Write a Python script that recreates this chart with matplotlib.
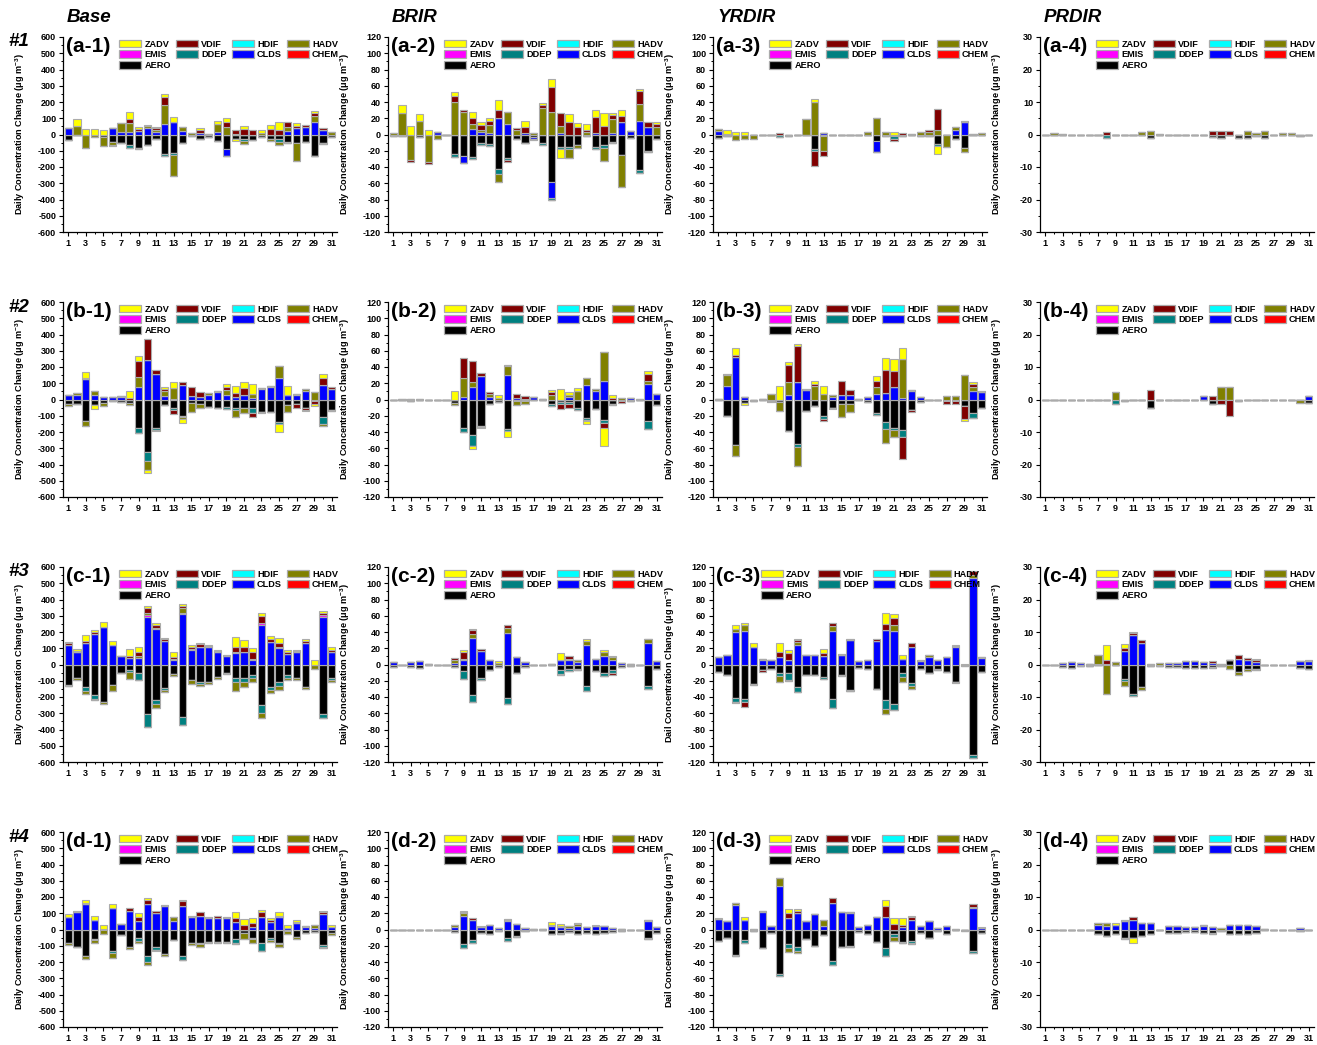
import matplotlib
matplotlib.use("Agg")
import matplotlib.pyplot as plt
from matplotlib.patches import Patch
import numpy as np

plt.rcParams['font.family'] = ['Liberation Sans', 'DejaVu Sans']
plt.rcParams['font.weight'] = 'bold'
plt.rcParams['axes.unicode_minus'] = False
plt.rcParams['mathtext.fontset'] = 'custom'
plt.rcParams['mathtext.rm'] = 'Liberation Sans:bold'
plt.rcParams['mathtext.bf'] = 'Liberation Sans:bold'

days = list(range(1, 32))
processes = ["AERO", "CHEM", "CLDS", "DDEP", "EMIS", "HADV", "HDIF", "VDIF", "ZADV"]
colors = {"ZADV": "#FFFF00", "VDIF": "#800000", "HDIF": "#00FFFF", "HADV": "#808000",
          "EMIS": "#FF00FF", "DDEP": "#008080", "CLDS": "#0000FF", "CHEM": "#FF0000",
          "AERO": "#000000"}
# legend is filled column by column -> this gives rows ZADV VDIF HDIF HADV / EMIS DDEP CLDS CHEM / AERO
legend_order = ["ZADV", "EMIS", "AERO", "VDIF", "DDEP", "HDIF", "CLDS", "HADV", "CHEM"]

col_titles = ["Base", "BRIR", "YRDIR", "PRDIR"]
row_titles = ["#1", "#2", "#3", "#4"]
col_limits = [600, 120, 120, 30]

# ---------------- #1 ----------------
a1_aero = [-35, -5, -5, 0, -15, -45, -55, -65, -85, -65, -30, -120, -115, -50, -10, -30, -15, -40, -90, -28, -30, -35, -15, -30, -30, -45, -55, -45, -130, -55, -15]
a1_clds = [38, 0, 0, 0, 0, 38, 15, 15, 22, 40, 15, 65, 80, 20, 0, 10, 0, 15, -40, 0, 0, 0, 0, 0, 0, 20, 40, 45, 80, 25, 0]
a1_ddep = [0, 0, 0, 0, 0, 0, 0, -15, 0, 0, 0, -12, -12, 0, 0, 0, 0, 0, 0, 0, -10, 0, 0, 0, -15, -5, 0, 0, -5, 0, 0]
a1_hadv = [0, 50, -75, -15, -55, -20, 53, 55, -5, 10, 15, 115, -128, 25, 10, 0, 5, 52, 45, 5, -20, 0, 10, -10, -20, 25, -105, 0, 35, -5, 15]
a1_vdif = [0, 0, 0, 0, 0, -5, 0, 25, 13, 0, 10, 50, 0, -5, 0, 15, 0, 0, 35, 25, 35, 25, 0, 35, 25, 35, 15, 13, 15, 13, 0]
a1_zadv = [0, 45, 35, 35, 30, 0, 0, 45, 10, 10, 8, 18, 28, 0, 0, 17, 0, 18, 20, -12, 15, 0, 20, 25, 55, 0, 15, 0, 15, 0, 0]

a2_aero = [-2, -2, 0, -3, 0, 0, -1, -24, -26, -28, -11, -12, -42, -29, -5, -10, -3, -10, -58, -15, -15, -13, -2, -15, -13, -9, -25, -4, -44, -20, -5]
a2_clds = [0, 0, 0, 0, 0, 3, 0, 0, -9, 7, 3, 2, 20, 13, 0, 2, -2, 0, -20, 2, 0, 0, 0, 2, 0, 2, 16, 4, 17, 9, 0]
a2_ddep = [0, 0, 0, 0, 0, 0, 0, -4, 0, -2, -2, -2, -6, -2, 0, -1, 0, -3, -3, -3, -3, 0, 0, -3, -3, -2, 0, 0, -3, -2, 0]
a2_hadv = [2, 27, -31, 17, -34, -6, 0, 40, 28, 6, 3, 10, -10, 15, 5, 0, 2, 33, 28, 8, -11, -3, 3, 0, -17, 17, -40, 0, 21, 0, 9]
a2_vdif = [0, 0, -3, 0, -2, 0, 0, 7, 2, 7, 6, 5, 10, -3, 3, 7, -2, 3, 30, 16, 15, 9, 2, 20, 10, 5, 7, 0, 15, 7, 4]
a2_zadv = [0, 9, 10, 8, 5, 0, 0, 5, 0, 8, 3, 3, 12, 0, 0, 8, 0, 3, 10, -11, 10, 5, 8, 8, 16, 3, 7, 0, 3, 0, 2]

a3_aero = [-4, -2, 0, 0, 0, 0, 0, -1, -2, 0, -1, -18, -2, 0, 0, 0, 0, -1, -8, -2, -2, -2, -1, -2, -2, -12, -1, -6, -16, 0, -1]
a3_clds = [4, 0, 0, 0, 0, 0, 0, 0, 0, 0, 0, 0, 2, 0, 0, 0, 0, 0, -13, 0, 0, 0, 0, 0, 0, 0, 0, 6, 16, 0, 0]
a3_ddep = [0, 0, 0, 0, 0, 0, 0, -2, 0, 0, 0, -2, 0, 0, 0, 0, 0, 0, 0, 0, -4, 0, 0, 0, 0, -2, 0, 0, 0, 0, 0]
a3_hadv = [3, 1, -7, -5, -5, 0, 0, 0, 0, 0, 19, 40, -18, 0, 0, 0, 0, 3, 20, 3, 0, 0, 1, 3, 3, 5, -14, 3, -5, 1, 2]
a3_vdif = [0, 0, 0, 0, 0, 0, 0, 2, 0, 0, 0, -19, -6, 0, 0, 0, 0, 0, -1, 0, -2, 2, 0, 0, 3, 26, 0, 0, 1, 0, 0]
a3_zadv = [0, 4, 3, 3, 0, 0, 0, 0, 0, 0, 0, 4, 0, 0, 0, 0, 0, 0, 0, 0, 3, 0, 0, 0, 0, -10, 0, 0, 0, 0, 0]

a4_aero = [0, 0, 0, 0, 0, 0, 0, 0, 0, 0, 0, 0, -1.2, 0, 0, 0, 0, 0, 0, -0.8, -1, 0, -1, -1, -0.6, -1, 0, 0, 0, -0.5, 0]
a4_ddep = [0, 0, 0, 0, 0, 0, 0, -1, 0, 0, 0, 0, 0, 0, 0, 0, 0, 0, 0, 0, 0, 0, 0, 0, 0, 0, 0, 0, 0, 0, 0]
a4_hadv = [0, 0.5, 0.3, 0, 0, 0, 0, 0, 0, 0, 0, 0.7, 1, 0.3, 0, 0, 0, 0, 0, 0, 0, 0, 0, 1, 0.5, 1, 0, 0.5, 0.5, 0, 0]
a4_vdif = [0, 0, 0, 0, 0, 0, 0, 0.7, 0, 0, 0, 0, 0, 0, 0, 0, 0, 0, 0, 1, 1, 1.2, 0, 0, 0, 0, 0, 0, 0, 0, 0]

# ---------------- #2 ----------------
b1_aero = [-30, -30, -130, -35, -20, -12, -15, -20, -175, -320, -175, -35, -55, -100, -20, -30, -45, -50, -45, -50, -55, -55, -75, -75, -140, -35, -30, -55, -10, -110, -65]
b1_clds = [30, 25, 125, 30, 15, 15, 15, 0, 80, 245, 160, 20, 5, 90, 20, 15, 30, 45, 30, 15, 25, 10, 65, 75, 130, 30, 25, 50, 0, 90, 65]
b1_ddep = [0, 0, 0, 0, 0, 0, 0, 0, -30, -60, -10, 0, -10, -10, 0, 0, 0, 0, -15, -15, 0, -25, 0, 0, -10, 0, 0, 0, 0, -40, 0]
b1_hadv = [-8, 18, -35, 20, -20, 0, 5, -15, 60, -55, 0, 35, 65, -10, -55, -25, 10, 5, 30, -45, -30, 25, 5, 8, 75, -40, 10, 15, 45, -15, -8]
b1_vdif = [0, 0, 10, 0, 0, 0, 0, 10, 100, 130, 20, 10, -25, 15, 55, 30, 0, 0, 15, 25, 45, -30, -10, 0, 0, 0, -25, -10, -15, 40, 10]
b1_zadv = [0, 0, 35, -25, 0, 0, 0, 45, 30, -15, -8, 10, 35, -25, 0, 0, 0, 0, 20, 45, 40, 60, 0, 0, -50, 55, 0, -5, -15, 25, 0]

b2_aero = [-1, 0, -2, -1, 0, 0, 0, -4, -35, -44, -32, -5, -3, -36, -2, -2, -1, -1, -5, -3, -3, -10, -23, -12, -25, -5, -2, -2, -1, -26, -7]
b2_clds = [0, 0, 0, 0, 0, 0, 0, 0, 3, 15, 29, 3, 0, 30, 2, 1, 3, 1, 0, 0, 3, 0, 18, 10, 23, 0, 0, 2, 0, 19, 7]
b2_ddep = [0, 0, 0, 0, 0, 0, 0, 0, -5, -13, -2, 0, 0, -3, 0, 0, 0, 0, -3, -3, -3, -3, -2, 0, -4, 0, 0, 0, 0, -10, 0]
b2_hadv = [0, 1, 1, 1, 0, 0, 0, -3, 24, 6, 0, 4, 2, 11, -5, -3, 0, 0, 6, 0, 2, 10, 9, 3, 36, -2, 2, 0, 1, 4, 0]
b2_vdif = [0, 0, 0, 0, 0, 0, 0, 0, 24, 27, 4, 2, 0, 1, 5, 3, 0, 0, 3, -6, -4, 1, -2, 0, -6, 2, -2, 0, 0, 8, 0]
b2_zadv = [0, 0, 0, 0, 0, 0, 0, 11, 0, -4, -1, 0, 4, -7, 0, 0, 0, 0, 3, 13, 4, 3, -3, 0, -22, 3, 0, 0, 0, 4, 0]

b3_aero = [-1, -20, -56, -4, -2, -1, -2, -3, -39, -55, -14, -8, -20, -10, -5, -5, -1, -3, -17, -28, -35, -38, -13, -3, -0.5, -0.5, -2, -2, -8, -16, -10]
b3_clds = [1, 17, 52, 3, 0, 1, 0, 0, 5, 21, 12, 0, 0, 3, 5, 5, 1, 3, 7, 8, 16, 2, 10, 3, 0, 0, 0, 0, 0, 11, 9]
b3_ddep = [0, 0, 0, 0, 0, 0, 0, 0, 0, -3, 0, 0, -4, 0, 0, 0, 0, 0, -2, -8, -2, -8, 0, 0, 0, 0, 0, 0, 0, -7, 0]
b3_hadv = [0, 13, -14, 0, 0, 0, 7, -11, 17, -24, 0, 17, 7, 3, -17, -10, 0, 0, 9, -17, -9, 48, 2, 0, 0, 0, 4, 4, 30, 5, 0]
b3_vdif = [0, 2, 3, 0, 0, 0, -1, 0, 21, 45, 1, 2, -2, 0, 18, 7, 0, 0, 7, 28, 19, -27, -2, 0, 0, 0, -3, -3, -16, 3, 2]
b3_zadv = [0, 0, 8, -3, 0, 0, 0, 17, 3, 2, 0, 4, 10, -2, 0, 0, 0, 0, 6, 15, 15, 14, 0, 0, 0, 0, 0, 0, -3, 2, 0]

b4_aero = [0, 0, 0, 0, 0, 0, 0, 0, 0, -0.5, 0, 0, -2.5, 0, 0, 0, 0, 0, 0, -1.5, 0, 0, -0.5, -0.3, 0, 0, 0, 0, 0, 0, -1]
b4_clds = [0, 0, 0, 0, 0, 0, 0, 0, 0, 0, 0, 0, 0, 0, 0, 0, 0, 0, 1, 0, 0, 0, 0, 0, 0, 0, 0, 0, 0, 0, 1]
b4_ddep = [0, 0, 0, 0, 0, 0, 0, 0, -1.5, 0, 0, 0, 0, 0, 0, 0, 0, 0, 0, 0, 0, 0, 0, 0, 0, 0, 0, 0, 0, 0, 0]
b4_hadv = [0, 0, 0, 0, 0, 0, 0, 0, 2.2, 0, 0, 0, 0, 0, 0, 0, 0, 0, 0, 0, 4, 4, 0, 0, 0, 0, 0, 0, 0, -1, 0]
b4_vdif = [0, 0, 0, 0, 0, 0, 0, 0, 0, 0, 0, 0, 3, 0, 0, 0, 0, 0, 0, 1, -1.5, -5, 0, 0, 0, 0, 0, 0, 0, 0, 0]

# ---------------- #3 ----------------
c1_aero = [-125, -80, -140, -190, -230, -125, -50, -35, -50, -305, -220, -145, -60, -320, -95, -110, -105, -75, -55, -80, -85, -65, -250, -140, -105, -65, -80, -140, -5, -305, -80]
c1_clds = [120, 80, 135, 185, 228, 120, 55, 40, 40, 295, 220, 145, 30, 310, 90, 105, 105, 75, 55, 70, 75, 30, 245, 140, 100, 65, 80, 135, 0, 290, 75]
c1_ddep = [-10, 0, -20, -20, 0, 0, 0, -10, -45, -80, -25, -10, 0, -50, 0, -10, 0, 0, 0, -30, -20, -15, -50, -15, -25, -20, 0, 0, 0, -25, -15]
c1_emis = [0, 0, 0, 0, 0, 0, 0, 0, 0, 10, 5, 0, 5, 10, 5, 5, 0, 0, 0, 5, 5, 5, 10, 0, 5, 0, 0, 0, 0, 15, 0]
c1_hadv = [0, -15, -20, -10, -15, -40, 0, -45, 15, 10, -20, -15, -10, 30, -25, -15, -15, -15, -5, -50, -35, -30, -30, -20, -25, -10, -15, -10, -20, 0, -15]
c1_vdif = [15, 5, 10, 12, 0, 0, 0, 15, 25, 30, 20, 15, 10, 10, 10, 15, 10, 8, 5, 30, 30, 40, 45, 20, 25, 10, 5, 10, 0, 15, 15]
c1_zadv = [5, 12, 38, 18, 32, 25, 0, 40, 30, 15, 10, 5, 30, 10, 12, 10, 5, 5, 0, 65, 40, 25, 20, 15, 35, 15, 5, 10, 25, 10, 20]

c2_aero = [-3, -1, -3, -4, -1, 0, 0, -3, -8, -37, -17, -7, -3, -41, -10, -3, -1, 0, -1, -7, -6, -5, -26, -8, -11, -7, -3, -2, 0, -27, -5]
c2_clds = [3, 0, 3, 4, 1, 0, 0, 2, 5, 33, 17, 6, 0, 39, 9, 3, 0, 0, 1, 6, 5, 3, 24, 7, 10, 6, 2, 1, 0, 26, 4]
c2_ddep = [0, 0, 0, 0, 0, 0, 0, 0, -10, -9, -2, 0, 0, -8, 0, 0, 0, 0, 0, -5, -2, -2, -6, 0, -3, -4, 0, 0, 0, -3, 0]
c2_hadv = [0, 0, 0, 0, 0, 0, 0, 3, 2, 5, 0, 0, 2, 6, 0, 0, 0, 0, 0, -1, 2, 3, 5, 0, 6, 3, 0, 0, 0, 5, 0]
c2_vdif = [0, 0, 0, 0, 0, 0, 0, 3, 8, 4, 2, 0, 0, 4, 0, 0, 0, 0, 0, 0, 3, 0, 0, 0, 0, -2, 0, 0, 0, 0, 0]
c2_zadv = [0, 0, 0, 0, 0, 0, 0, 0, 3, 2, 0, 0, 2, 0, 0, 0, 0, 0, 0, 8, 0, 0, 2, 0, 2, 1, 0, 0, 0, 1, 0]

c3_aero = [-9, -13, -41, -42, -24, -7, -6, -11, -11, -28, -13, -13, -15, -43, -13, -31, -4, -6, -30, -44, -49, -11, -23, -6, -10, -6, -9, -22, -1, -111, -9]
c3_clds = [9, 12, 40, 41, 22, 6, 5, 9, 6, 24, 12, 12, 10, 41, 12, 30, 4, 5, 29, 43, 41, 7, 21, 4, 9, 5, 9, 21, 0, 107, 8]
c3_ddep = [0, 0, -5, -4, 0, 0, 0, -3, -8, -6, 0, 0, -3, -10, 0, -2, 0, 0, 0, -11, -7, -4, -3, 0, -1, -1, 0, 0, 0, -4, 0]
c3_hadv = [0, 0, 4, 8, -1, 1, 1, -7, -1, 4, 0, 0, 0, 6, -1, 0, 0, 0, 0, -6, 8, -7, -4, 0, 3, 0, 0, 2, -1, 3, 1]
c3_vdif = [0, 0, -1, -6, 0, -2, 0, 7, 8, 2, 0, 0, 4, 4, 1, 2, 0, 0, 2, 7, 8, 0, 6, 1, 0, 0, 0, -1, 0, 5, 0]
c3_zadv = [0, 0, 5, 2, 4, 0, 0, 11, 4, 2, 0, 0, 5, 0, 0, 0, 0, 0, 0, 14, 5, 5, 0, 0, 0, 0, 0, 1, 1, 0, 0]

c4_aero = [0, 0, -0.8, -1, -0.5, -0.5, -0.3, 0, -0.3, -4.5, -9.2, -7, -0.5, -0.5, -0.7, -0.7, -1.2, -1, -1, -0.8, -0.5, 1.5, -2.3, -1.5, -1.3, -0.3, 0, 0, 0, -1, -1.3]
c4_clds = [0, 0, 0.5, 0.8, 0.5, 0.3, 0.3, 0.3, 0, 4.2, 9, 6.7, 0, 0, 0.6, 0.5, 1.2, 1, 0.9, 0.5, 0, 0, 1.7, 1.5, 0.8, 0, 0, 0, 0, 1, 1]
c4_ddep = [0, 0, 0, 0, 0, 0, 0, 0, 0, -0.5, -0.6, 0, 0, 0, 0, 0, 0, 0, 0, 0, 0, 0, 0, 0, 0, 0, 0, 0, 0, 0, 0]
c4_hadv = [0, 0, 0, 0, 0, 0, 2.7, -9, 0.8, -1.6, 0, -0.7, 0.3, 0.4, 0, 0, 0, 0, 0, -0.4, 0.3, -1.5, -0.8, -0.4, -0.4, 0, 0, 0, 0, 0, 0]
c4_vdif = [0, 0, 0, 0, 0, 0, 0, 1.2, 0, 1, 0.8, 0.8, 0, 0, 0, 0, 0, 0, 0, 0.6, 0, 0, 1.3, 0.5, 0.7, 0, 0, 0, 0, 0, 0.4]
c4_zadv = [0, 0, 0, 0, 0, 0, 0, 4.6, 0, 1.2, 0.3, 0, 0, 0, 0, 0, 0, 0, 0, 0, 0, 0, 0, 0, 0.3, 0, 0, 0, 0, 0, 0]

# ---------------- #4 ----------------
d1_aero = [-80, -110, -160, -60, -5, -135, -35, -110, -55, -165, -105, -150, -65, -160, -80, -85, -75, -75, -75, -60, -20, -50, -85, -50, -80, -10, -45, -20, -15, -95, -20]
d1_clds = [75, 105, 160, 60, 3, 135, 35, 115, 50, 160, 100, 145, 50, 145, 75, 85, 70, 72, 70, 45, 0, 15, 80, 45, 75, 12, 40, 15, 10, 95, 15]
d1_ddep = [0, 0, -5, -5, 0, -10, 0, 0, -15, -35, -20, 0, 0, -30, -5, -5, 0, 0, 0, -25, 0, -10, -45, -15, -10, 0, 0, 0, 0, -15, 0]
d1_hadv = [-15, 0, -15, -15, -20, -30, 0, -10, -10, -20, 0, -10, 30, 0, -10, -15, -5, -10, -5, -5, -40, -25, 0, -10, -15, -20, -15, 5, 15, -5, -15]
d1_vdif = [0, 10, 5, 0, 0, 0, 0, 15, 25, 20, 15, 5, 0, 30, 10, 20, 10, 10, 10, 25, 25, 25, 30, 15, 10, 0, 8, 0, 0, 15, 0]
d1_zadv = [20, 0, 15, 25, 25, 20, 0, 5, 25, 15, -10, 0, 0, 5, 0, 0, 0, 0, 0, 35, 40, 30, 10, 10, 20, 13, 8, 0, 0, 5, 10]

d2_aero = [-0.5, -0.5, -1, -0.5, -0.5, -0.5, -0.5, -3, -18, -13, -4, -5, -2, -11, -8, -2, -1, -1, -5, -4, -3, -5, -4, -5, -4, -3, -2, -0.5, -0.5, -10, -4]
d2_clds = [0, 0, 0, 0, 0, 0, 0, 3, 17, 12, 3, 5, 2, 10, 7, 2, 1, 1, 4, 3, 2, 4, 3, 4, 4, 2, 1, 0, 0, 10, 3]
d2_ddep = [0, 0, 0, 0, 0, 0, 0, 0, -5, -4, 0, 0, 0, -3, -1, 0, 0, 0, 0, -1, 0, 0, 0, 0, 0, 0, 0, 0, 0, -2, 0]
d2_hadv = [0, 0, 0, 0, 0, 0, 0, 2, 3, 0, 0, 0, 0, 2, 0, 0, 0, 0, 2, 0, 2, 3, 0, 0, 0, 0, 0, 0, 0, 2, 0]
d2_vdif = [0, 0, 0, 0, 0, 0, 0, 0, 2, 2, 0, 0, 0, 1, 0, 0, 0, 0, 0, 1, 0, 1, 0, 0, 0, 0, 0, 0, 0, 0, 0]
d2_zadv = [0, 0, 0, 0, 0, 0, 0, 0, 1, 0, 1, 0, 0, 0, 0, 0, 0, 0, 3, 3, 0, 0, 0, 1, 0, 0, 0, 0, 0, 0, 0]

d3_aero = [-14, -11, -31, -13, -2, -23, -4, -55, -18, -22, -12, -20, -7, -39, -22, -20, -3, -6, -15, -23, -6, -15, -14, -4, -11, -2, -5, -1, -1, -27, -4]
d3_clds = [13, 11, 30, 12, 0, 22, 4, 54, 14, 20, 10, 19, 4, 33, 22, 20, 3, 6, 15, 16, 0, 3, 12, 4, 10, 2, 4, 0, 0, 26, 2]
d3_ddep = [0, 0, -2, -3, 0, 0, 0, -2, -5, -4, 0, 0, 0, -5, 0, -1, 0, 0, 0, -9, -3, -2, -3, 0, 0, 0, 0, 0, 0, -2, 0]
d3_hadv = [0, 0, 3, 0, 1, 1, 0, 9, -5, -3, 0, 0, 8, 0, 0, 1, 0, 0, 1, 0, -5, 0, -1, 0, 0, 0, 0, 1, -1, 2, 0]
d3_vdif = [0, 0, 0, 0, 0, 0, 0, 0, 6, 3, 0, 0, 0, 6, 0, 0, 0, 0, 0, 13, 7, 3, 4, 0, 1, 0, 0, 0, 0, 3, 0]
d3_zadv = [1, 0, 0, 3, 0, 0, 0, 0, 5, 2, 0, 0, 0, 0, 0, 0, 0, 0, 0, 7, 7, 8, 1, 0, 0, 0, 0, 0, 0, 0, 1]

d4_aero = [0, 0, 0, 0, 0, 0, -1.5, -2, -1.5, -2.5, -2.5, -2, -1.5, 0, -1, -1, -0.8, -0.8, -1, -1, -0.5, -1.3, -1.5, -1.5, -1.2, -0.3, 0, 0, 0, -0.5, 0]
d4_clds = [0, 0, 0, 0, 0, 0, 1.5, 1, 1.5, 2.5, 3, 2, 2, 0, 1, 1, 0.8, 0.8, 1, 0.8, 0, 1.3, 1.5, 1.5, 1.2, 0.3, 0, 0, 0, 0.5, 0]
d4_hadv = [0, 0, 0, 0, 0, 0, 0.5, 1, 0, -0.5, 0, 0, 0, 0, 0, 0, 0, 0, 0.5, -0.5, 0.5, 0, 0, 0, 0, 0, 0, 0, 0, 0, 0]
d4_vdif = [0, 0, 0, 0, 0, 0, 0, 0, 0, 0.5, 0.8, 0, 0, 0, 0, 0, 0, 0, 0, 0, 0, 0, 0, 0, 0, 0, 0, 0, 0, 0, 0]
d4_zadv = [0, 0, 0, 0, 0, 0, 0, 0, 0.5, 0, -1.5, 0, 0, 0, 0, 0, 0, 0, 0, 0, 0, 0, 0, 0, 0, 0, 0, 0, 0, 0, 0]

panels = [
    [dict(AERO=a1_aero, CLDS=a1_clds, DDEP=a1_ddep, HADV=a1_hadv, VDIF=a1_vdif, ZADV=a1_zadv),
     dict(AERO=a2_aero, CLDS=a2_clds, DDEP=a2_ddep, HADV=a2_hadv, VDIF=a2_vdif, ZADV=a2_zadv),
     dict(AERO=a3_aero, CLDS=a3_clds, DDEP=a3_ddep, HADV=a3_hadv, VDIF=a3_vdif, ZADV=a3_zadv),
     dict(AERO=a4_aero, DDEP=a4_ddep, HADV=a4_hadv, VDIF=a4_vdif)],
    [dict(AERO=b1_aero, CLDS=b1_clds, DDEP=b1_ddep, HADV=b1_hadv, VDIF=b1_vdif, ZADV=b1_zadv),
     dict(AERO=b2_aero, CLDS=b2_clds, DDEP=b2_ddep, HADV=b2_hadv, VDIF=b2_vdif, ZADV=b2_zadv),
     dict(AERO=b3_aero, CLDS=b3_clds, DDEP=b3_ddep, HADV=b3_hadv, VDIF=b3_vdif, ZADV=b3_zadv),
     dict(AERO=b4_aero, CLDS=b4_clds, DDEP=b4_ddep, HADV=b4_hadv, VDIF=b4_vdif)],
    [dict(AERO=c1_aero, CLDS=c1_clds, DDEP=c1_ddep, EMIS=c1_emis, HADV=c1_hadv, VDIF=c1_vdif, ZADV=c1_zadv),
     dict(AERO=c2_aero, CLDS=c2_clds, DDEP=c2_ddep, HADV=c2_hadv, VDIF=c2_vdif, ZADV=c2_zadv),
     dict(AERO=c3_aero, CLDS=c3_clds, DDEP=c3_ddep, HADV=c3_hadv, VDIF=c3_vdif, ZADV=c3_zadv),
     dict(AERO=c4_aero, CLDS=c4_clds, DDEP=c4_ddep, HADV=c4_hadv, VDIF=c4_vdif, ZADV=c4_zadv)],
    [dict(AERO=d1_aero, CLDS=d1_clds, DDEP=d1_ddep, HADV=d1_hadv, VDIF=d1_vdif, ZADV=d1_zadv),
     dict(AERO=d2_aero, CLDS=d2_clds, DDEP=d2_ddep, HADV=d2_hadv, VDIF=d2_vdif, ZADV=d2_zadv),
     dict(AERO=d3_aero, CLDS=d3_clds, DDEP=d3_ddep, HADV=d3_hadv, VDIF=d3_vdif, ZADV=d3_zadv),
     dict(AERO=d4_aero, CLDS=d4_clds, HADV=d4_hadv, VDIF=d4_vdif, ZADV=d4_zadv)],
]

W, H = 1317, 1045
fig = plt.figure(figsize=(W / 100, H / 100), dpi=100)

col_left = [63, 388, 713, 1040]
row_top = [37, 302, 567, 832]
ax_w, ax_h = 274, 195
edge = "#ababab"

handles = [Patch(facecolor=colors[p], edgecolor=edge, linewidth=0.9, label=p) for p in legend_order]

for r in range(4):
    for c in range(4):
        ax = fig.add_axes([col_left[c] / W, 1 - (row_top[r] + ax_h) / H, ax_w / W, ax_h / H])
        data = panels[r][c]
        pos = np.zeros(31)
        neg = np.zeros(31)
        for p in processes:
            v = np.array(data.get(p, [0] * 31), dtype=float)
            if len(v) != 31:
                raise ValueError(f"panel {r},{c} {p} has {len(v)} values")
            up = np.where(v > 0, v, 0)
            dn = np.where(v < 0, v, 0)
            ax.bar(days, up, 0.82, bottom=pos, color=colors[p], edgecolor=edge, linewidth=0.8)
            ax.bar(days, dn, 0.82, bottom=neg, color=colors[p], edgecolor=edge, linewidth=0.8)
            pos += up
            neg += dn

        lim = col_limits[c]
        step = lim / 6 if lim != 30 else 10
        ax.set_ylim(-lim, lim)
        ax.set_xlim(0.4, 31.6)
        ax.set_yticks(np.arange(-lim, lim + 0.1, step))
        ax.set_yticks(np.arange(-lim, lim + 0.1, step / 2), minor=True)
        ax.set_xticks(range(1, 32, 2))
        ax.set_xticks(range(2, 31, 2), minor=True)
        ax.set_yticklabels([f"{int(t)}" for t in np.arange(-lim, lim + 0.1, step)])
        ax.tick_params(which="major", direction="out", length=3, width=0.8, labelsize=6.5, pad=2)
        ax.tick_params(which="minor", direction="out", length=1.6, width=0.7)
        for lab in ax.get_xticklabels() + ax.get_yticklabels():
            lab.set_fontweight("bold")
        ax.spines["top"].set_visible(False)
        ax.spines["right"].set_visible(False)
        ax.spines["left"].set_linewidth(0.9)
        ax.spines["bottom"].set_linewidth(0.9)

        word = "Dail" if (c == 2 and r >= 2) else "Daily"
        ax.set_ylabel(word + " Concentration Change (μg m$^{-3}$)", fontsize=6.6, fontweight="bold")
        ax.yaxis.set_label_coords(-0.13, 0.5)

        tag = f"({'abcd'[r]}-{c + 1})"
        ax.text(0.012, 1.0, tag, transform=ax.transAxes, fontsize=15, fontweight="bold",
                va="top", ha="left")

        lx = 0.155 if (r == 2 and c == 2) else 0.185
        ax.legend(handles=handles, ncol=4, loc="upper left", bbox_to_anchor=(lx, 1.015),
                  frameon=False, handlelength=2.4, handleheight=0.9,
                  handletextpad=0.35, columnspacing=0.55, labelspacing=0.2, borderpad=0.1,
                  prop={"weight": "bold", "size": 6.6})

for c, t in enumerate(col_titles):
    fig.text((col_left[c] + 4) / W, 1 - 18 / H, t, fontsize=13.5, fontweight="bold",
             fontstyle="italic", va="center", ha="left")
for r, t in enumerate(row_titles):
    fig.text(8 / W, 1 - (row_top[r] + 5) / H, t, fontsize=13.5, fontweight="bold",
             fontstyle="italic", va="center", ha="left")

fig.savefig("out.png", dpi=100)
